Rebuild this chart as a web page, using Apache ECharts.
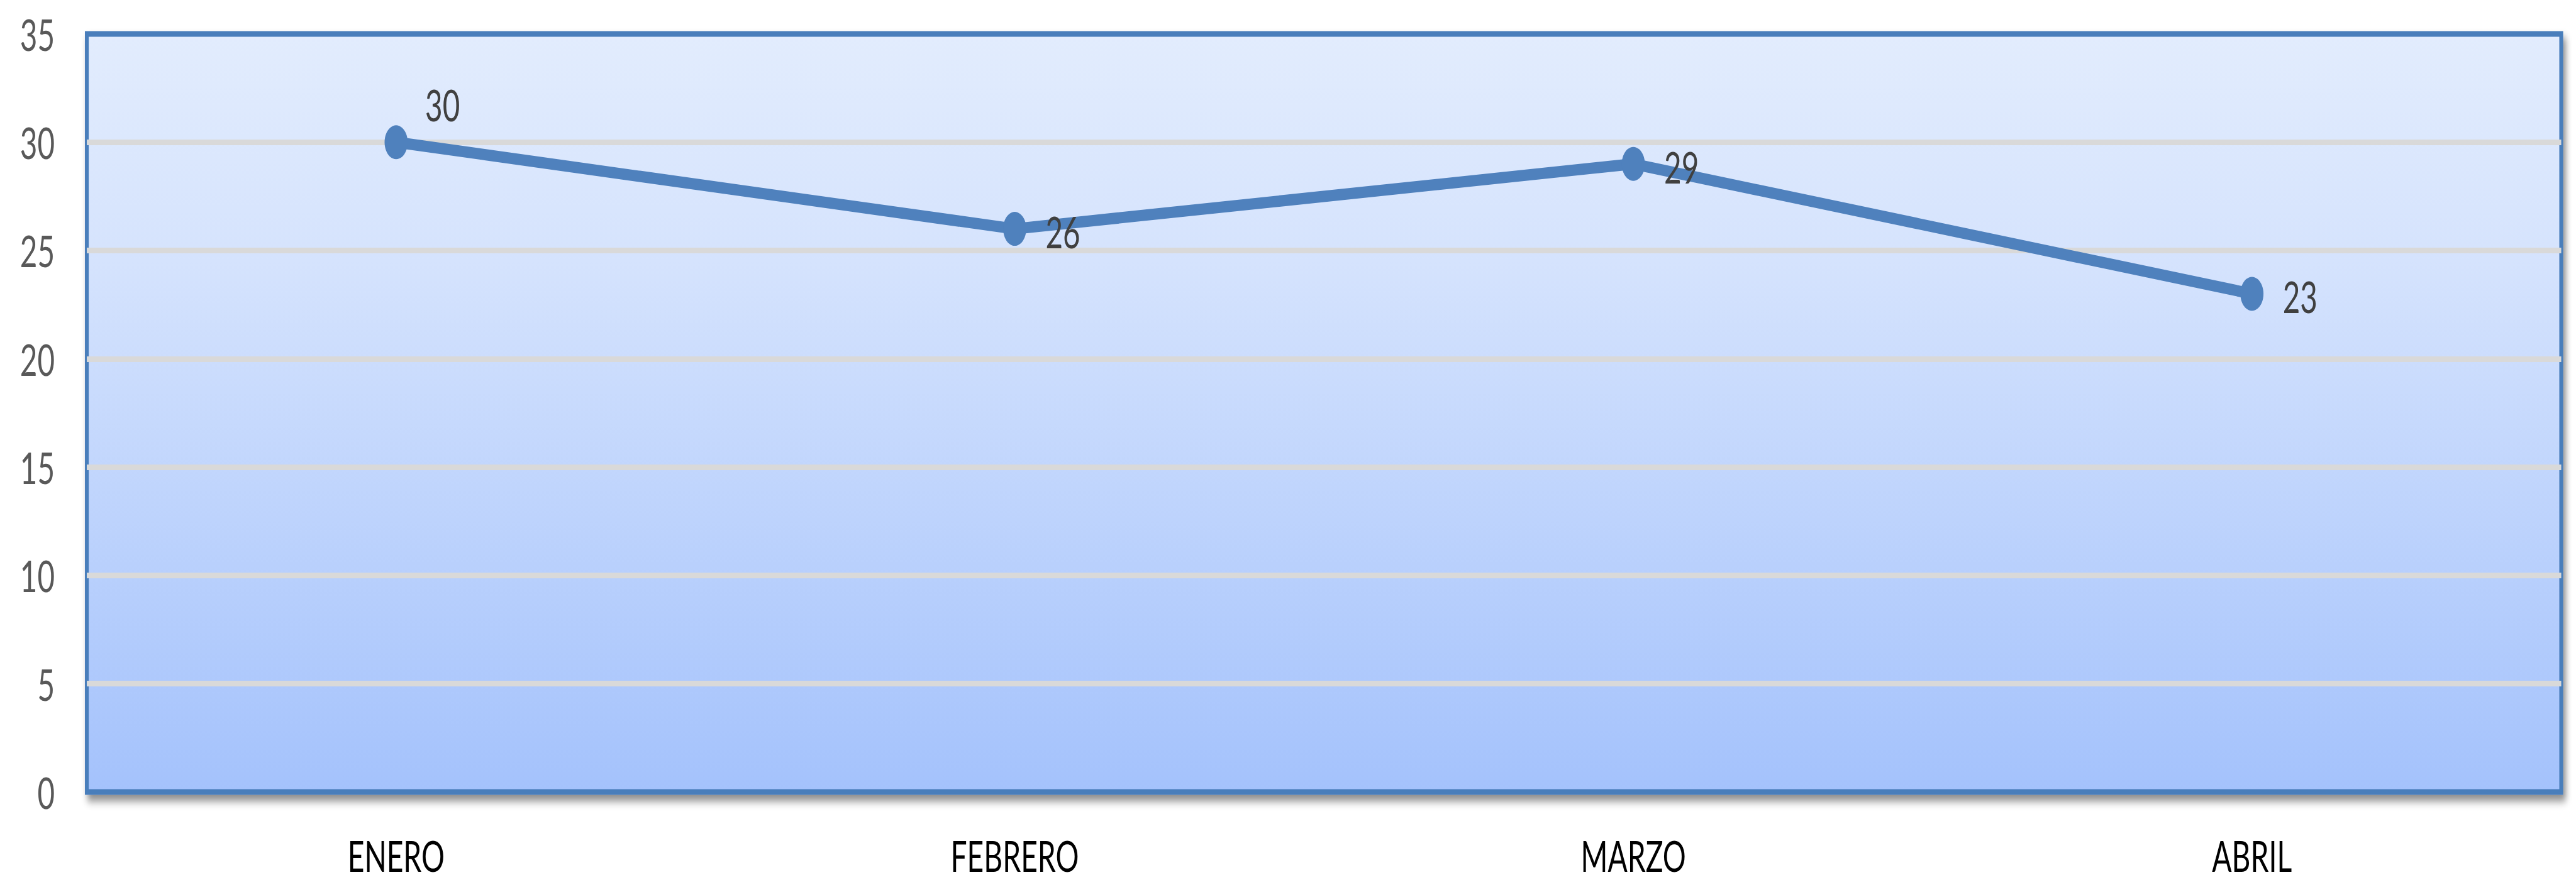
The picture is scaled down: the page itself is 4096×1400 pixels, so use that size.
<!DOCTYPE html>
<html>
<head>
<meta charset="utf-8">
<script src="https://cdn.jsdelivr.net/npm/echarts@6/dist/echarts.min.js"></script>
<style>
    html, body { margin: 0; padding: 0; overflow: hidden; background: #fff; }
    #wrap { width: 4096px; height: 1400px; overflow: hidden; }
    /* the original picture is squeezed sideways, so draw wide and squeeze back */
    #chart { width: 6024px; height: 1400px; transform: scaleX(0.68); transform-origin: 0 0; }
</style>
</head>
<body>
<div id="wrap"><div id="chart"></div></div>
<script>
    var months = ['ENERO', 'FEBRERO', 'MARZO', 'ABRIL'];
    var values = [30, 26, 29, 23];
    var yMin = 0;
    var yMax = 35;
    var yStep = 5;

    var font = 'Lato, "Open Sans", sans-serif';
    var blue = '#4f81bd';

    var chart = echarts.init(document.getElementById('chart'), null, { renderer: 'svg' });

    var seriesData = values.map(function (v, i) {
        if (i === 0) {
            // the first label sits up and to the right of its point
            return { value: v, label: { distance: 41, offset: [0, -60] } };
        }
        return v;
    });

    chart.setOption({
        animation: false,
        backgroundColor: '#ffffff',
        grid: {
            show: true,
            left: 203,
            right: 35,
            top: 54,
            bottom: 140,
            borderColor: '#4a7ebb',
            borderWidth: 9,
            backgroundColor: new echarts.graphic.LinearGradient(0, 0, 0, 1, [
                { offset: 0, color: '#e2ecfd' },
                { offset: 0.3, color: '#d5e3fd' },
                { offset: 1, color: '#a4c2fc' }
            ]),
            shadowColor: 'rgba(0, 0, 0, 0.45)',
            shadowBlur: 14,
            shadowOffsetX: 6,
            shadowOffsetY: 10
        },
        xAxis: {
            type: 'category',
            data: months,
            boundaryGap: true,
            axisLine: { show: false },
            axisTick: { show: false },
            axisLabel: {
                color: '#000000',
                fontSize: 68,
                lineHeight: 56,
                fontFamily: font,
                margin: 101,
                verticalAlign: 'middle'
            },
            splitLine: { show: false }
        },
        yAxis: {
            type: 'value',
            min: yMin,
            max: yMax,
            interval: yStep,
            axisLine: { show: false },
            axisTick: { show: false },
            axisLabel: {
                color: '#595959',
                fontSize: 70,
                fontFamily: font,
                margin: 75
            },
            splitLine: {
                showMinLine: false,
                showMaxLine: false,
                lineStyle: { color: '#d9d9d9', width: 9 }
            }
        },
        series: [{
            type: 'line',
            data: seriesData,
            symbol: 'circle',
            symbolSize: 54,
            itemStyle: { color: blue },
            lineStyle: { color: blue, width: 18 },
            label: {
                show: true,
                position: 'right',
                distance: 45,
                offset: [0, 4],
                color: '#404040',
                fontSize: 70,
                fontFamily: font
            },
            z: 3
        }]
    });
</script>
</body>
</html>
